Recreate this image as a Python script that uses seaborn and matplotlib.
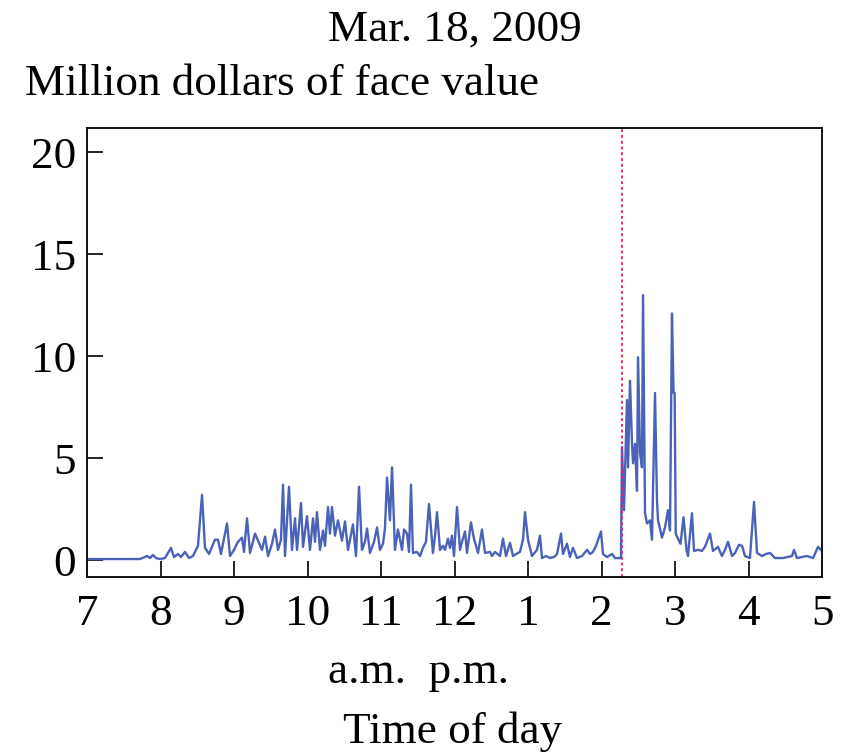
import matplotlib
matplotlib.use("Agg")
import matplotlib.pyplot as plt
import seaborn as sns
import pandas as pd

# Trading volume through the day (hours since midnight, million dollars of face value)
hours = [
    7.000, 7.177, 7.449, 7.721, 7.816, 7.857, 7.898, 7.939, 7.993, 8.061,
    8.143, 8.184, 8.238, 8.279, 8.333, 8.388, 8.442, 8.510, 8.565, 8.605,
    8.660, 8.741, 8.782, 8.823, 8.905, 8.946, 9.000, 9.054, 9.109, 9.136,
    9.177, 9.218, 9.286, 9.327, 9.381, 9.422, 9.463, 9.517, 9.558, 9.599,
    9.639, 9.667, 9.694, 9.748, 9.789, 9.830, 9.857, 9.912, 9.939, 9.993,
    10.034, 10.075, 10.102, 10.129, 10.170, 10.211, 10.238, 10.279, 10.306, 10.333,
    10.374, 10.415, 10.469, 10.510, 10.551, 10.619, 10.660, 10.701, 10.741, 10.782,
    10.810, 10.850, 10.905, 10.946, 10.986, 11.027, 11.054, 11.082, 11.122, 11.150,
    11.190, 11.231, 11.286, 11.313, 11.354, 11.381, 11.408, 11.435, 11.490, 11.531,
    11.571, 11.612, 11.653, 11.694, 11.707, 11.735, 11.762, 11.803, 11.844, 11.871,
    11.912, 11.939, 11.966, 11.993, 12.034, 12.075, 12.102, 12.143, 12.170, 12.224,
    12.265, 12.293, 12.320, 12.374, 12.415, 12.483, 12.510, 12.551, 12.619, 12.660,
    12.701, 12.755, 12.796, 12.864, 12.891, 12.932, 12.959, 13.000, 13.054, 13.122,
    13.163, 13.190, 13.245, 13.299, 13.354, 13.395, 13.449, 13.476, 13.531, 13.571,
    13.612, 13.667, 13.735, 13.803, 13.844, 13.884, 13.925, 13.993, 14.020, 14.075,
    14.143, 14.184, 14.265, 14.279, 14.306, 14.347, 14.361, 14.388, 14.415, 14.429,
    14.456, 14.483, 14.497, 14.524, 14.551, 14.565, 14.592, 14.619, 14.660, 14.687,
    14.728, 14.755, 14.769, 14.823, 14.864, 14.905, 14.932, 14.959, 14.980, 14.995,
    15.010, 15.034, 15.075, 15.116, 15.156, 15.177, 15.231, 15.259, 15.313, 15.367,
    15.408, 15.476, 15.517, 15.585, 15.639, 15.680, 15.721, 15.776, 15.816, 15.871,
    15.912, 15.952, 16.020, 16.075, 16.116, 16.184, 16.238, 16.293, 16.361, 16.469,
    16.592, 16.619, 16.660, 16.796, 16.878, 16.946, 17.000,
]
volume = [
    0.05, 0.05, 0.05, 0.05, 0.20, 0.10, 0.25, 0.10, 0.05, 0.10,
    0.60, 0.15, 0.30, 0.15, 0.40, 0.10, 0.20, 0.70, 3.20, 0.60,
    0.30, 1.00, 1.00, 0.30, 1.80, 0.20, 0.50, 0.90, 1.10, 0.40,
    2.05, 0.35, 1.30, 0.95, 0.50, 1.15, 0.20, 0.80, 1.50, 0.50,
    1.00, 3.70, 0.20, 3.60, 0.50, 2.05, 0.50, 2.80, 0.65, 2.15,
    0.50, 2.05, 0.90, 2.35, 0.50, 1.45, 0.70, 2.60, 1.30, 2.60,
    1.20, 1.95, 0.95, 1.90, 0.50, 1.75, 0.20, 3.60, 0.50, 0.90,
    1.55, 0.35, 0.90, 1.60, 0.50, 0.80, 1.55, 4.05, 1.95, 4.55,
    0.50, 1.50, 0.50, 1.50, 1.30, 0.40, 3.70, 0.35, 0.40, 0.20,
    0.60, 0.90, 2.75, 0.95, 0.35, 1.20, 2.35, 0.50, 0.70, 0.50,
    1.05, 0.60, 1.20, 0.20, 2.60, 0.50, 0.90, 1.40, 0.35, 1.85,
    1.05, 0.70, 0.35, 1.50, 0.35, 0.40, 0.20, 0.40, 0.20, 1.05,
    0.20, 0.85, 0.20, 0.35, 0.40, 1.00, 2.35, 1.00, 0.20, 0.50,
    1.20, 0.10, 0.20, 0.10, 0.15, 0.30, 1.30, 0.30, 0.80, 0.15,
    0.60, 0.10, 0.20, 0.50, 0.30, 0.40, 0.70, 1.40, 0.30, 0.15,
    0.30, 0.10, 0.10, 5.55, 2.45, 7.85, 4.55, 8.80, 5.70, 4.75,
    5.70, 3.40, 9.95, 5.25, 4.55, 13.00, 2.30, 1.80, 1.95, 1.00,
    8.20, 2.90, 1.95, 1.10, 1.60, 2.45, 1.45, 12.10, 8.20, 8.20,
    1.30, 1.10, 0.80, 2.10, 0.50, 0.20, 2.30, 0.45, 0.50, 0.45,
    0.65, 1.30, 0.45, 0.65, 0.20, 0.50, 0.90, 0.20, 0.35, 0.75,
    0.70, 0.20, 0.10, 2.85, 0.35, 0.20, 0.30, 0.35, 0.10, 0.10,
    0.20, 0.50, 0.10, 0.20, 0.10, 0.65, 0.45,
]
tick_hours = [7, 8, 9, 10, 11, 12, 13, 14, 15, 16, 17]
tick_labels = ["7", "8", "9", "10", "11", "12", "1", "2", "3", "4", "5"]
y_ticks = [0, 5, 10, 15, 20]
event_hour = 14.28

sns.set_style("ticks")
plt.rcParams["font.family"] = ["Liberation Serif", "DejaVu Serif"]
plt.rcParams["text.color"] = "black"

df = pd.DataFrame({"hour": hours, "volume": volume})

fig = plt.figure(figsize=(8.44, 7.54), dpi=100)
ax = fig.add_axes([87 / 844, 1 - 577 / 754, 735 / 844, 449 / 754])

sns.lineplot(data=df, x="hour", y="volume", ax=ax, color="#4a62b8",
             linewidth=1.7, estimator=None, sort=False)
ax.axvline(event_hour, color="#e0226e", linestyle=(0, (1.6, 1.6)), linewidth=1.3)

ax.set_xlim(7, 17)
ax.set_ylim(-0.83, 21.2)
ax.set_xticks(tick_hours)
ax.set_xticklabels(tick_labels)
ax.set_yticks(y_ticks)
ax.set_xlabel("")
ax.set_ylabel("")

ax.tick_params(axis="both", direction="in", length=11.5, width=1.2,
               labelsize=32.5, colors="black", labelcolor="black")
ax.tick_params(axis="x", pad=12)
ax.tick_params(axis="y", pad=8)
for side in ["top", "right", "bottom", "left"]:
    ax.spines[side].set_visible(True)
    ax.spines[side].set_linewidth(1.4)
    ax.spines[side].set_color("#111111")

text_kw = dict(fontsize=32.5, color="black", va="center")
fig.text(455 / 844, 1 - 30 / 754, "Mar. 18, 2009", ha="center", **text_kw)
fig.text(25 / 844, 1 - 84 / 754, "Million dollars of face value", ha="left", **text_kw)
fig.text(418 / 844, 1 - 672 / 754, "a.m.  p.m.", ha="center", **text_kw)
fig.text(453 / 844, 1 - 732 / 754, "Time of day", ha="center", **text_kw)

fig.savefig("out.png", dpi=100, facecolor="white")
